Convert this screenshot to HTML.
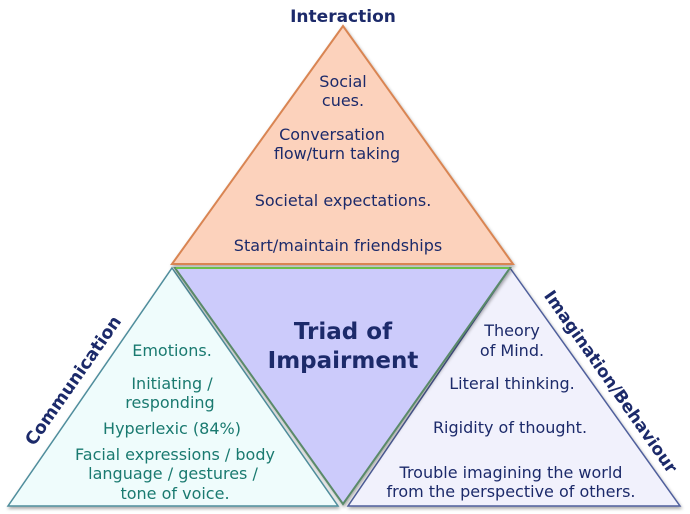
<!DOCTYPE html>
<html><head><style>
body{margin:0;width:690px;height:514px;background:#fff;overflow:hidden;font-family:"DejaVu Sans",sans-serif}
svg{position:absolute;left:0;top:0}
</style></head><body>
<svg width="690" height="514" viewBox="0 0 690 514" font-family="DejaVu Sans, sans-serif">
<defs>
<filter id="sh" x="-5%" y="-5%" width="110%" height="110%"><feDropShadow dx="1" dy="2" stdDeviation="1.5" flood-opacity="0.35"/></filter>
</defs>
<polygon points="343,26 513,264 172,264" fill="#fcd2bc" stroke="#d98552" stroke-width="2" filter="url(#sh)"/>
<polygon points="172,268 338,506 8,506" fill="#effcfc" stroke="#4f8d9c" stroke-width="1.5" filter="url(#sh)"/>
<polygon points="510,268 680,506 348,506" fill="#f1f1fc" stroke="#4f5f9c" stroke-width="1.5" filter="url(#sh)"/>
<polygon points="175,268 510,268 343,504" fill="#cccbfb" stroke="#5a8a6a" stroke-width="2" filter="url(#sh)"/>
<polyline points="176,268 509,268" stroke="#6cbf4a" stroke-width="2"/>
<g font-size="16" fill="#1c2a6a" text-anchor="middle">
<text x="343" y="22" font-weight="bold" font-size="17">Interaction</text>
<text x="343" y="87">Social</text>
<text x="343" y="106">cues.</text>
<text x="332" y="140">Conversation</text>
<text x="337" y="159">flow/turn taking</text>
<text x="343" y="206">Societal expectations.</text>
<text x="338" y="251">Start/maintain friendships</text>
<text x="343" y="339" font-weight="bold" font-size="23">Triad of</text>
<text x="343" y="368" font-weight="bold" font-size="23">Impairment</text>
<text x="512" y="336">Theory</text>
<text x="512" y="356">of Mind.</text>
<text x="512" y="389">Literal thinking.</text>
<text x="510" y="433">Rigidity of thought.</text>
<text x="511" y="478">Trouble imagining the world</text>
<text x="511" y="497">from the perspective of others.</text>
</g>
<g font-size="16" fill="#1a7a70" text-anchor="middle">
<text x="172" y="356">Emotions.</text>
<text x="172" y="389">Initiating /</text>
<text x="170" y="408">responding</text>
<text x="172" y="434">Hyperlexic (84%)</text>
<text x="175" y="460">Facial expressions / body</text>
<text x="173" y="479">language / gestures /</text>
<text x="175" y="499">tone of voice.</text>
</g>
<text x="0" y="0" font-size="17.5" font-weight="bold" fill="#1c2a6a" text-anchor="middle" transform="translate(78,384) rotate(-55)">Communication</text>
<text x="0" y="0" font-size="17" font-weight="bold" fill="#1c2a6a" text-anchor="middle" transform="translate(606,385) rotate(55)">Imagination/Behaviour</text>
</svg>
</body></html>
